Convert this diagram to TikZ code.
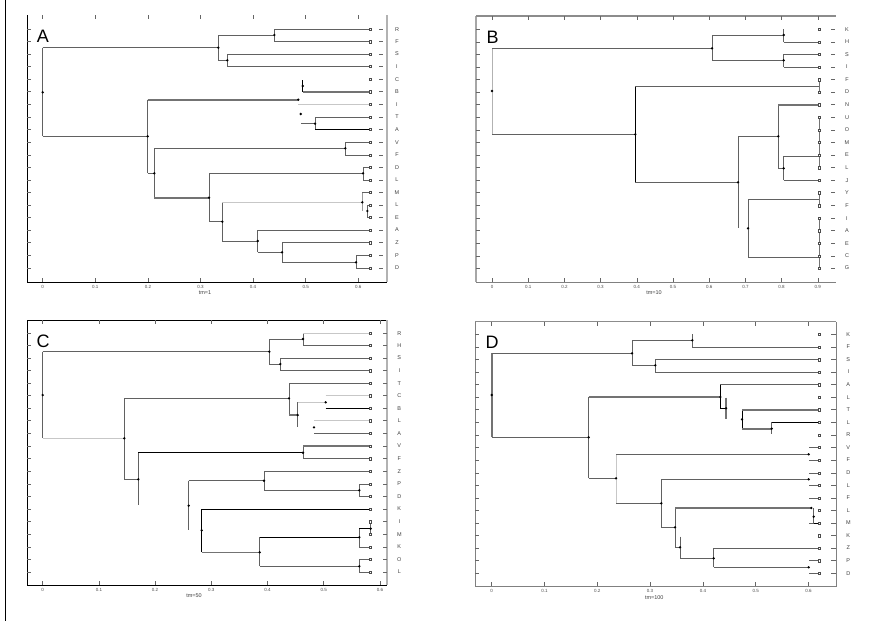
\documentclass[tikz,border=0pt]{standalone}
\usepackage{fontspec}
\setmainfont{Liberation Sans}
\newcommand\dt[2]{\fill (#1,#2) circle (1.3pt);}
\newcommand\lfm[2]{\draw[leafm] ({#1-1.3},{#2-1.3}) rectangle ++(2.6,2.6);}
\begin{document}
\begin{tikzpicture}[x=1pt,y=-1pt,
 ln/.style={draw=black!62,line width=0.6pt},
 lk/.style={draw=black,line width=0.75pt},
 lt/.style={draw=black!55,line width=1.6pt},
 lf/.style={draw=black!22,line width=0.5pt},
 leafm/.style={draw=black!70,fill=white,line width=0.4pt},
 tick/.style={draw=black!60,line width=0.5pt},
 tl/.style={font=\fontsize{4.5}{5}\selectfont,text=black!70,inner sep=0pt},
 ll/.style={font=\fontsize{5.5}{6}\selectfont,text=black!75,inner sep=0pt},
 pl/.style={font=\fontsize{18}{20}\selectfont,inner sep=0pt}]
\useasboundingbox (0,0) rectangle (872,621);
\fill[white] (0,0) rectangle (872,621);
\draw[black,line width=0.8pt] (5,0) -- (5,621);

% ================= PANEL A =================
\draw[black,line width=0.7pt] (27,15) -- (27,282) -- (387,282);
\draw[black!30,line width=1.2pt] (387,15) -- (387,282);
\foreach \x/\t in {42.7/0,95.3/0.1,147.9/0.2,200.5/0.3,253.1/0.4,305.7/0.5,358.3/0.6}{
  \draw[tick] (\x,15)--(\x,19); \draw[tick] (\x,278)--(\x,282);
  \node[tl] at (\x,287) {\t};}
\node[ll] (tA) at (205,293) {tm=1};
\node[pl] (pA) at (43,36) {A};
\foreach[count=\i] \y/\l in {29.3/R,41.7/F,54/S,66.3/I,79.3/C,91.7/B,104.3/I,117/T,129.3/A,142.3/V,155/F,167.3/D,180/L,192.3/M,205/L,217.3/E,230/A,242.7/Z,255.3/P,268/D}{
  \draw[tick] (27,\y)--(31,\y); \draw[tick] (379,\y)--(383,\y);
  \node[ll] (lA\i) at (397,\y) {\l};}
\draw[ln] (42.7,47.7) -- (42.7,136.3);
\draw[ln] (42.7,47.7) -- (218.3,47.7);
\draw[ln] (42.7,136.3) -- (147.7,136.3);
\draw[ln] (218.3,35) -- (218.3,60.3);
\draw[ln] (218.3,35) -- (274.3,35);
\draw[ln] (218.3,60.3) -- (227.3,60.3);
\draw[ln] (274.3,29.3) -- (274.3,41.7);
\draw[ln] (274.3,29.3) -- (370,29.3);
\draw[ln] (274.3,41.7) -- (370,41.7);
\draw[ln] (227.3,54) -- (227.3,66.3);
\draw[ln] (227.3,54) -- (370,54);
\draw[ln] (227.3,66.3) -- (370,66.3);
\draw[ln] (147.7,99.7) -- (147.7,173.3);
\draw[lt] (147.7,99.7) -- (298.3,99.7);
\draw[ln] (147.7,173.3) -- (154.3,173.3);
\draw[lk] (302.7,80) -- (302.7,91.7);
\draw[lt] (302.7,91.7) -- (370,91.7);
\draw[lf] (298.3,104.3) -- (370,104.3);
\draw[ln] (301,123.7) -- (315,123.7);
\draw[ln] (315,117) -- (315,129.3);
\draw[ln] (315,117) -- (370,117);
\draw[lk] (315,129.3) -- (370,129.3);
\draw[ln] (154.3,148.3) -- (154.3,197.7);
\draw[ln] (154.3,148.3) -- (345.3,148.3);
\draw[ln] (345.3,142.3) -- (345.3,155);
\draw[ln] (345.3,142.3) -- (370,142.3);
\draw[ln] (345.3,155) -- (370,155);
\draw[lt] (154.3,197.7) -- (209,197.7);
\draw[ln] (209,173.3) -- (209,221.7);
\draw[ln] (209,173.3) -- (363,173.3);
\draw[ln] (363,167.3) -- (363,180);
\draw[ln] (363,167.3) -- (370,167.3);
\draw[ln] (363,180) -- (370,180);
\draw[ln] (209,221.7) -- (222.3,221.7);
\draw[ln] (222.3,202.3) -- (222.3,241);
\draw[lf] (222.3,202.3) -- (362.3,202.3);
\draw[draw=black!40,line width=0.6pt] (362.3,192.3) -- (362.3,210.5);
\draw[ln] (362.3,192.3) -- (370,192.3);
\draw[ln] (367.3,205) -- (367.3,217.3);
\draw[ln] (367.3,205) -- (370,205);
\draw[ln] (367.3,217.3) -- (370,217.3);
\draw[ln] (222.3,241) -- (257.7,241);
\draw[ln] (257.7,230) -- (257.7,252.3);
\draw[ln] (257.7,230) -- (370,230);
\draw[ln] (257.7,252.3) -- (282,252.3);
\draw[ln] (282,242.7) -- (282,262.3);
\draw[ln] (282,242.7) -- (370,242.7);
\draw[ln] (282,262.3) -- (356,262.3);
\draw[ln] (356,255.3) -- (356,268);
\draw[ln] (356,255.3) -- (370,255.3);
\draw[ln] (356,268) -- (370,268);
\foreach \y in {29.3,41.7,54,66.3,79.3,91.7,104.3,117,129.3,142.3,155,167.3,180,192.3,205,217.3,230,242.7,255.3,268}{\lfm{370}{\y}}
\dt{42.7}{92.3}\dt{218.3}{47.7}\dt{274.3}{35}\dt{227.3}{60.3}\dt{147.7}{136.3}
\dt{302.7}{86}\dt{298.3}{99.7}\dt{300.7}{114}\dt{315}{123.7}\dt{154.3}{173.3}
\dt{345.3}{148.3}\dt{209}{197.7}\dt{363}{173.3}\dt{222.3}{221.7}\dt{362.3}{202.3}
\dt{367.3}{211}\dt{257.7}{241}\dt{282}{252.3}\dt{356}{262.3}

% ================= PANEL B =================
\draw[black!35,line width=1.3pt] (476,16) -- (476,282);
\draw[black!45,line width=1.5pt] (476,16) -- (836,16);
\draw[black!50,line width=0.7pt] (476,282) -- (836,282);
\foreach \x/\t in {492/0,528.2/0.1,564.4/0.2,600.6/0.3,636.8/0.4,673/0.5,709.2/0.6,745.4/0.7,781.6/0.8,817.8/0.9}{
  \draw[tick] (\x,16)--(\x,20); \draw[tick] (\x,278)--(\x,282);
  \node[tl] at (\x,287) {\t};}
\node[ll] (tB) at (654,293) {tm=10};
\node[pl] (pB) at (492.7,37.3) {B};
\foreach[count=\i] \y/\l in {29.3/K,42/H,54.3/S,67/I,79.7/F,92/D,104.7/N,117.3/U,130/O,142.3/M,155/E,167.7/L,180.3/J,192.7/Y,205.7/F,218.3/I,230.7/A,243.3/E,256/C,268/G}{
  \draw[tick] (476,\y)--(480,\y); \draw[tick] (831,\y)--(835,\y);
  \node[ll] (lB\i) at (847,\y) {\l};}
\draw[lf,draw=black!30] (492,48.3) -- (492,134.3);
\draw[ln] (492,48.3) -- (712,48.3);
\draw[ln] (492,134.3) -- (635.3,134.3);
\draw[ln] (712,35) -- (712,60.3);
\draw[ln] (712,35) -- (783.7,35);
\draw[ln] (712,60.3) -- (783.7,60.3);
\draw[ln] (783.7,29.3) -- (783.7,42);
\draw[ln] (783.7,42) -- (819.3,42);
\draw[ln] (783.7,54.3) -- (783.7,67);
\draw[ln] (783.7,54.3) -- (819.3,54.3);
\draw[ln] (783.7,67) -- (819.3,67);
\draw[lk,line width=1pt] (635.3,86.7) -- (635.3,182.3);
\draw[ln] (635.3,86.7) -- (819.3,86.7);
\draw[ln] (635.3,182.3) -- (738,182.3);
\draw[ln] (738,136.3) -- (738,228.3);
\draw[ln] (738,136.3) -- (778.3,136.3);
\draw[ln] (748,199.3) -- (748,257.3);
\draw[ln] (748,199.3) -- (819.3,199.3);
\draw[ln] (748,257.3) -- (819.3,257.3);
\draw[ln] (778.3,105) -- (778.3,168.3);
\draw[lt] (778.3,104.7) -- (819.3,104.7);
\draw[ln] (778.3,168.3) -- (783.7,168.3);
\draw[ln] (783.7,156.3) -- (783.7,180.3);
\draw[ln] (783.7,156.3) -- (819.3,156.3);
\draw[ln] (783.7,180.3) -- (819.3,180.3);
\draw[black!55,line width=1.6pt] (819.3,79) -- (819.3,92.7);
\draw[black!55,line width=1.6pt] (819.3,116.3) -- (819.3,168.3);
\draw[black!55,line width=1.6pt] (819.3,192.7) -- (819.3,206);
\draw[black!55,line width=1.6pt] (819.3,217.3) -- (819.3,268.7);
\foreach \y in {29.3,42,54.3,67,79.7,92,104.7,117.3,130,142.3,155,167.7,180.3,192.7,205.7,218.3,230.7,243.3,256,268}{\lfm{819.3}{\y}}
\dt{492}{91}\dt{712}{48.3}\dt{635.3}{134.3}\dt{783.7}{35}\dt{783.7}{60.3}
\dt{738}{182.3}\dt{748}{228.3}\dt{778.3}{136.3}\dt{783.7}{168.3}

% ================= PANEL C =================
\draw[black,line width=0.7pt] (387,320) -- (27,320) -- (27,585) -- (387,585);
\draw[black!30,line width=1.2pt] (387,320) -- (387,585);
\foreach \x/\t in {42.7/0,98.9/0.1,155.1/0.2,211.3/0.3,267.5/0.4,323.7/0.5,379.9/0.6}{
  \draw[tick] (\x,320)--(\x,324); \draw[tick] (\x,581)--(\x,585);
  \node[tl] at (\x,589.5) {\t};}
\node[ll] (tC) at (194,596) {tm=50};
\node[pl] (pC) at (43,341) {C};
\foreach[count=\i] \y/\l in {333.3/R,345.3/H,358/S,370.7/I,383.3/T,395.7/C,408.3/B,420.7/L,433.3/A,446/V,458.7/F,471.3/Z,484/P,496.3/D,509/K,521.7/I,534.3/M,547/K,559.3/O,572/L}{
  \draw[tick] (27,\y)--(31,\y); \draw[tick] (383,\y)--(387,\y);
  \node[ll] (lC\i) at (399.3,\y) {\l};}
\draw[ln] (42.7,351.7) -- (42.7,438.3);
\draw[ln] (42.7,351.7) -- (269.3,351.7);
\draw[lf] (42.7,438.3) -- (124.3,438.3);
\draw[ln] (269.3,339) -- (269.3,364);
\draw[ln] (269.3,339) -- (303,339);
\draw[ln] (269.3,364) -- (280.3,364);
\draw[ln] (303,333.3) -- (303,345.3);
\draw[lf] (303,333.3) -- (370,333.3);
\draw[ln] (303,345.3) -- (370,345.3);
\draw[ln] (280.3,358) -- (280.3,370.7);
\draw[ln] (280.3,358) -- (370,358);
\draw[ln] (280.3,370.7) -- (370,370.7);
\draw[ln] (124.3,398.3) -- (124.3,479.3);
\draw[ln] (124.3,398.3) -- (289,398.3);
\draw[ln] (124.3,479.3) -- (138.3,479.3);
\draw[ln] (289,383.3) -- (289,415);
\draw[ln] (289,383.3) -- (370,383.3);
\draw[lt] (289,415) -- (297.7,415);
\draw[ln] (297.7,402.3) -- (297.7,426.7);
\draw[lf] (297.7,402.3) -- (325.7,402.3);
\draw[lf] (325.7,395.7) -- (370,395.7);
\draw[lk] (325.7,408.3) -- (370,408.3);
\draw[lf] (314,420.7) -- (370,420.7);
\draw[ln] (314,433.3) -- (370,433.3);
\draw[ln] (138.3,452.7) -- (138.3,505);
\draw[lk] (138.3,452.7) -- (303,452.7);
\draw[ln] (303,446) -- (303,458.7);
\draw[lt] (303,446) -- (370,446);
\draw[ln] (303,458.7) -- (370,458.7);
\draw[ln] (188.7,480.7) -- (188.7,530);
\draw[ln] (188.7,480.7) -- (264,480.7);
\draw[ln] (264,471.3) -- (264,490.3);
\draw[ln] (264,471.3) -- (370,471.3);
\draw[ln] (264,490.3) -- (359.3,490.3);
\draw[ln] (359.3,484) -- (359.3,496.3);
\draw[ln] (359.3,484) -- (370,484);
\draw[ln] (359.3,496.3) -- (370,496.3);
\draw[lk,line width=1pt] (201.7,509) -- (201.7,552.3);
\draw[lk] (201.7,509) -- (370,509);
\draw[lt] (201.7,552.3) -- (259.7,552.3);
\draw[ln] (259.7,537.3) -- (259.7,566.3);
\draw[lk] (259.7,537.3) -- (359.3,537.3);
\draw[ln] (359.3,528.7) -- (359.3,547);
\draw[lk] (359.3,528.7) -- (370.7,528.7);
\draw[ln] (370.7,521.7) -- (370.7,534.3);
\draw[ln] (359.3,547) -- (370,547);
\draw[ln] (259.7,566.3) -- (359.3,566.3);
\draw[ln] (359.3,559.3) -- (359.3,572);
\draw[ln] (359.3,559.3) -- (370,559.3);
\draw[ln] (359.3,572) -- (370,572);
\foreach \y in {333.3,345.3,358,370.7,383.3,395.7,408.3,420.7,433.3,446,458.7,471.3,484,496.3,509,521.7,534.3,547,559.3,572}{\lfm{370}{\y}}
\dt{42.7}{395}\dt{269.3}{351.7}\dt{303}{339}\dt{280.3}{364}\dt{124.3}{438.3}
\dt{289}{398.3}\dt{297.7}{415}\dt{325.7}{402.3}\dt{314}{427.3}\dt{138.3}{479.3}
\dt{303}{452.7}\dt{188.7}{505.7}\dt{264}{480.7}\dt{359.3}{490.3}\dt{201.7}{530.3}
\dt{259.7}{552.3}\dt{359.3}{537.3}\dt{370.7}{528.7}\dt{359.3}{566.3}

% ================= PANEL D =================
\draw[black!50,line width=0.8pt] (475.3,321.7) -- (475.3,586) -- (836,586) -- (836,321.7);
\draw[black!45,line width=1.5pt] (475.3,321.7) -- (836,321.7);
\foreach \x/\t in {491.7/0,544.5/0.1,597.3/0.2,650.1/0.3,702.9/0.4,755.7/0.5,808.5/0.6}{
  \draw[tick] (\x,321.7)--(\x,325.7); \draw[tick] (\x,582)--(\x,586);
  \node[tl] at (\x,591) {\t};}
\node[ll] (tD) at (654.3,597.3) {tm=100};
\node[pl] (pD) at (492,342) {D};
\foreach[count=\i] \y/\l in {334.3/K,347/F,359.7/S,372/I,384.7/A,397.3/L,409.7/T,422.3/L,435/R,447.3/V,460/F,473/D,485.3/L,498/F,510.3/L,523/M,535.7/K,548/Z,560.7/P,573.3/D}{
  \draw[tick] (475.3,\y)--(479.3,\y); \draw[tick] (831,\y)--(836,\y);
  \node[ll] (lD\i) at (848.3,\y) {\l};}
\foreach \y in {447.3,460,473,485.3,498,523,560.7,573.3}{\draw[ln] (809.3,\y) -- (819.3,\y);}
\draw[lt] (491.7,353.3) -- (491.7,437.3);
\draw[ln] (491.7,353.3) -- (632,353.3);
\draw[ln] (491.7,437.3) -- (588.7,437.3);
\draw[ln] (632,340.3) -- (632,365.3);
\draw[ln] (632,340.3) -- (692.3,340.3);
\draw[ln] (692.3,334.3) -- (692.3,347.3);
\draw[ln] (692.3,347) -- (819.3,347);
\draw[ln] (632,365.3) -- (655.3,365.3);
\draw[ln] (655.3,359.7) -- (655.3,372);
\draw[ln] (655.3,359.7) -- (819.3,359.7);
\draw[ln] (655.3,372) -- (819.3,372);
\draw[ln] (588.7,397) -- (588.7,478.3);
\draw[lt] (588.7,397) -- (720.3,397);
\draw[lk] (720.3,384.7) -- (720.3,408.3);
\draw[ln] (720.3,384.7) -- (819.3,384.7);
\draw[lk] (720.3,408.3) -- (726,408.3);
\draw[lt] (726,397.7) -- (726,419.3);
\draw[lk,line width=1pt] (742,409.7) -- (742,428.7);
\draw[lt] (742,409.7) -- (819.3,409.7);
\draw[lt] (742,428.7) -- (771.7,428.7);
\draw[ln] (771.7,422.3) -- (771.7,434.3);
\draw[lk] (771.7,422.3) -- (819.3,422.3);
\draw[ln] (588.7,478.3) -- (616,478.3);
\draw[lf] (616,454.3) -- (616,503.3);
\draw[ln] (616,454.3) -- (808.7,454.3);
\draw[ln] (616,503.3) -- (661.3,503.3);
\draw[ln] (661.3,479.3) -- (661.3,527.3);
\draw[ln] (661.3,479.3) -- (808.7,479.3);
\draw[ln] (661.3,527.3) -- (675,527.3);
\draw[ln] (675,508) -- (675,547.3);
\draw[lt] (675,508) -- (811.3,508);
\draw[ln] (813.7,508) -- (813.7,523);
\draw[lk] (813.7,523) -- (819.3,523);
\draw[ln] (675,547.3) -- (680,547.3);
\draw[ln] (680,536.7) -- (680,558.3);
\draw[ln] (680,558.3) -- (713.7,558.3);
\draw[ln] (713.7,548.3) -- (713.7,567.3);
\draw[ln] (713.7,548.3) -- (819.3,548.3);
\draw[ln] (713.7,567.3) -- (808.7,567.3);
\foreach \y in {334.3,347,359.7,372,384.7,397.3,409.7,422.3,435,447.3,460,473,485.3,498,510.3,523,535.7,548,560.7,573.3}{\lfm{819.3}{\y}}
\dt{491.7}{395}\dt{632}{353.3}\dt{692.3}{340.3}\dt{655.3}{365.3}\dt{588.7}{437.3}
\dt{720.3}{397}\dt{726}{408.3}\dt{742}{419.3}\dt{771.7}{428.7}\dt{616}{478.3}
\dt{808.7}{454.3}\dt{661.3}{503.3}\dt{808.7}{479.3}\dt{675}{527.3}\dt{811.3}{508}
\dt{813.7}{516.7}\dt{680}{547.3}\dt{713.7}{558.3}\dt{808.7}{567.3}
\end{tikzpicture}
\end{document}
